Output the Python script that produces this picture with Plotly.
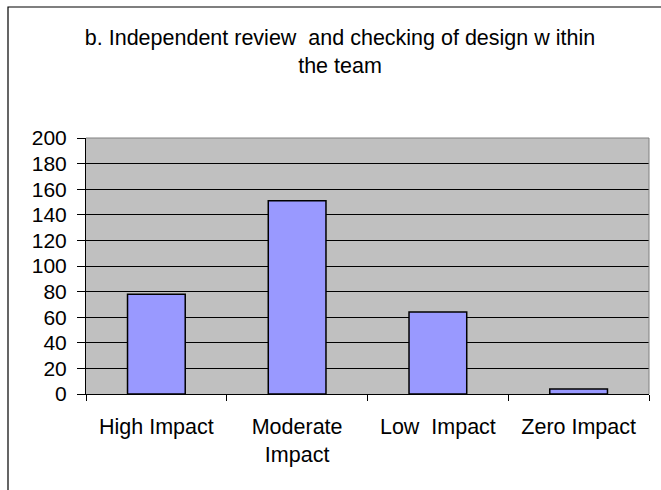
import plotly.graph_objects as go

categories = ["High Impact", "Moderate Impact", "Low Impact", "Zero Impact"]
tick_labels = ["High Impact", "Moderate<br>Impact", "Low\u00a0 Impact", "Zero Impact"]
counts = [78, 151, 64, 4]
y_ticks = [0, 20, 40, 60, 80, 100, 120, 140, 160, 180, 200]

title = "b. Independent review\u00a0 and checking of design w ithin<br>the team"

font = "Liberation Sans, Arial, sans-serif"

fig = go.Figure()
fig.add_trace(go.Bar(
    x=categories,
    y=counts,
    marker=dict(color="#9999FF", line=dict(color="black", width=1.5)),
))

fig.update_layout(
    width=661, height=490,
    margin=dict(l=86, r=12, t=138, b=96, autoexpand=False),
    paper_bgcolor="white",
    plot_bgcolor="#C0C0C0",
    bargap=0.59,
    showlegend=False,
    font=dict(family=font, size=21, color="black"),
    title=dict(text=title, x=340 / 661, xanchor="center", y=1 - 45 / 490,
               yanchor="top", font=dict(family=font, size=21.5, color="black"),
               automargin=False),
)

fig.update_xaxes(
    tickvals=categories, ticktext=tick_labels,
    tickson="boundaries", ticks="outside", ticklen=6, tickcolor="black",
    showline=True, linecolor="black", linewidth=1,
    showgrid=False, tickfont=dict(size=21.5), automargin=False,
    ticklabelstandoff=13,
)
fig.update_yaxes(
    range=[0, 200], tickvals=y_ticks,
    ticks="outside", ticklen=8, tickcolor="black",
    showline=True, linecolor="black", linewidth=1,
    showgrid=True, gridcolor="black", gridwidth=1,
    zeroline=False, tickfont=dict(size=21), automargin=False,
    ticklabelstandoff=6,
)

# plot area border (top and right, grey)
fig.add_shape(type="line", xref="paper", yref="paper", x0=0, x1=1, y0=1, y1=1,
              line=dict(color="#808080", width=1))
fig.add_shape(type="line", xref="paper", yref="paper", x0=1, x1=1, y0=0, y1=1,
              line=dict(color="#808080", width=1))

# chart area border
fig.add_shape(type="rect", xref="paper", yref="paper",
              x0=(8 - 86) / 563, x1=1.1, y0=-0.6, y1=(394 - 7) / 256,
              line=dict(color="black", width=1.2))

# drop the default page margin so the figure sits at the window's corner
fig.write_html("out.html", config={"displayModeBar": False},
               post_script="document.body.style.margin='0';")
